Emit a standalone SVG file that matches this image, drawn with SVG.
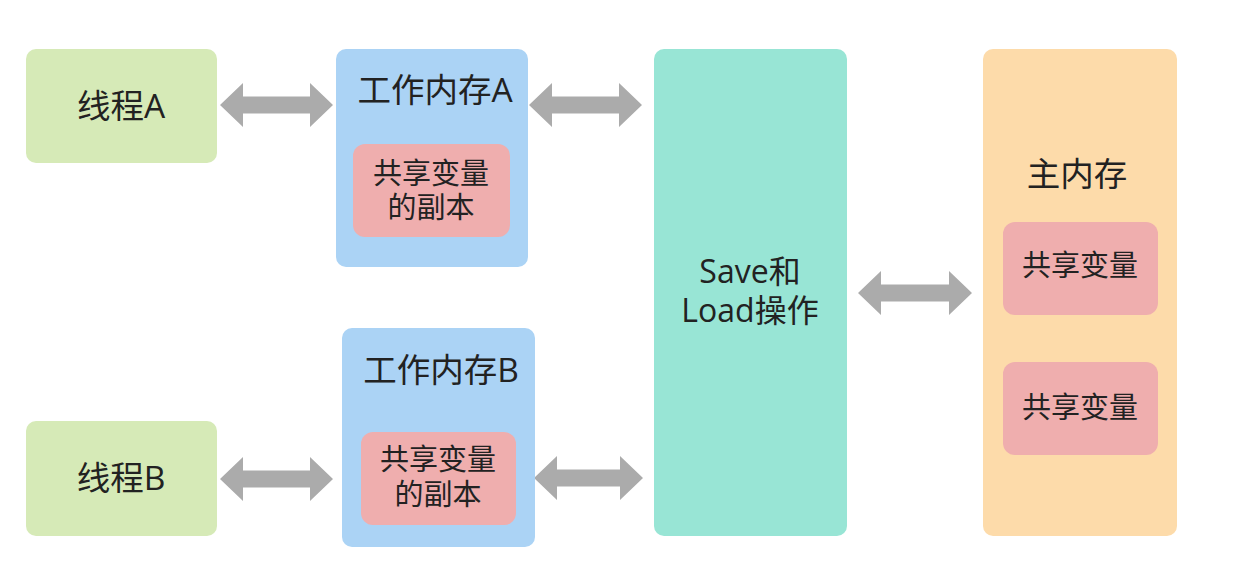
<svg xmlns="http://www.w3.org/2000/svg" width="1238" height="582" viewBox="0 0 1238 582">
<style>
.t{font-family:"Open Sans","Noto Sans CJK SC",sans-serif;fill:#222;text-anchor:middle}
.big{font-size:33.5px}
.mid{font-size:32px}
.sm{font-size:29px}
.thread{fill:#d6eab7}
.work{fill:#abd3f5}
.copy{fill:#efaeae}
.sl{fill:#98e5d5}
.main{fill:#fddbaa}
.arr{fill:#ababab}
</style>
<rect width="1238" height="582" fill="#fff"/>
<g id="connectors">
<path class="arr" d="M220,105 L243,83 L243,96.5 L310,96.5 L310,83 L333,105 L310,127 L310,113.5 L243,113.5 L243,127 Z"/>
<path class="arr" d="M529,105 L552,83 L552,96.5 L619,96.5 L619,83 L642,105 L619,127 L619,113.5 L552,113.5 L552,127 Z"/>
<path class="arr" d="M220,479 L243,457 L243,470.5 L310,470.5 L310,457 L333,479 L310,501 L310,487.5 L243,487.5 L243,501 Z"/>
<path class="arr" d="M534,478 L557,456 L557,469.5 L620,469.5 L620,456 L643,478 L620,500 L620,486.5 L557,486.5 L557,500 Z"/>
<path class="arr" d="M858,293 L881,271 L881,284.5 L949,284.5 L949,271 L972,293 L949,315 L949,301.5 L881,301.5 L881,315 Z"/>
</g>
<g id="threadA">
<rect class="thread" x="26" y="49" width="191" height="114" rx="10"/>
<text class="t big" x="121" y="118">线程A</text>
</g>
<g id="threadB">
<rect class="thread" x="26" y="421" width="191" height="115" rx="10"/>
<text class="t big" x="121" y="490">线程B</text>
</g>
<g id="workA">
<rect class="work" x="336" y="49" width="192" height="218" rx="10"/>
<text class="t big" x="435" y="102">工作内存A</text>
</g>
<g id="copyA">
<rect class="copy" x="353" y="144" width="157" height="93" rx="12"/>
<text class="t sm" x="431" y="184">共享变量</text>
<text class="t sm" x="431" y="218">的副本</text>
</g>
<g id="workB">
<rect class="work" x="342" y="328" width="193" height="219" rx="10"/>
<text class="t big" x="441" y="382">工作内存B</text>
</g>
<g id="copyB">
<rect class="copy" x="361" y="432" width="155" height="93" rx="12"/>
<text class="t sm" x="438" y="470">共享变量</text>
<text class="t sm" x="438" y="505">的副本</text>
</g>
<g id="saveLoad">
<rect class="sl" x="654" y="49" width="193" height="487" rx="10"/>
<text class="t mid" x="750" y="283">Save和</text>
<text class="t mid" x="750" y="322">Load操作</text>
</g>
<g id="mainMem">
<rect class="main" x="983" y="49" width="194" height="487" rx="10"/>
<text class="t big" x="1077" y="186">主内存</text>
</g>
<g id="shared1">
<rect class="copy" x="1003" y="222" width="155" height="93" rx="12"/>
<text class="t sm" x="1080" y="276">共享变量</text>
</g>
<g id="shared2">
<rect class="copy" x="1003" y="362" width="155" height="93" rx="12"/>
<text class="t sm" x="1080" y="418">共享变量</text>
</g>
</svg>
